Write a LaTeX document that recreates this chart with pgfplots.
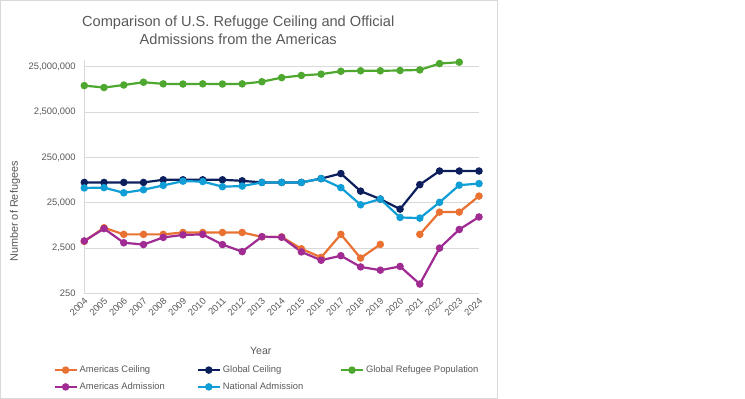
\documentclass[border=0pt]{standalone}
\usepackage{pgfplots}
\pgfplotsset{compat=1.18}
\usepackage{fontspec}
\setmainfont{Liberation Sans}
\definecolor{cOrange}{HTML}{E97132}
\definecolor{cNavy}{HTML}{0C1F5C}
\definecolor{cGreen}{HTML}{4EA72E}
\definecolor{cPurple}{HTML}{A02B93}
\definecolor{cBlue}{HTML}{0F9ED5}
\definecolor{gridgray}{HTML}{D9D9D9}
\definecolor{txtgray}{HTML}{595959}
\begin{document}
\begin{tikzpicture}
\path (0,0) rectangle (745bp,399bp);
\draw[gridgray, line width=0.75bp] (0.5bp,0.5bp) rectangle (497.3bp,398.5bp);
\begin{axis}[
  at={(84.3bp,105.7bp)}, anchor=south west,
  scale only axis, width=394.7bp, height=233.3bp,
  ymode=log, ymin=250, ymax=3.53e7,
  xmin=2004, xmax=2024,
  xtick={2004,...,2024},
  xticklabels={2004,2005,2006,2007,2008,2009,2010,2011,2012,2013,2014,2015,2016,2017,2018,2019,2020,2021,2022,2023,2024},
  ytick={250,2500,25000,250000,2500000,25000000},
  yticklabels={250,{2,500},{25,000},{250,000},{2,500,000},{25,000,000}},
  axis lines=left,
  axis line style={-, draw=gridgray, line width=0.75bp},
  ymajorgrids, major grid style={draw=gridgray, line width=0.75bp},
  tick style={draw=none},
  minor tick style={draw=none},
  log basis y=10,
  ticklabel style={font=\fontsize{9.4bp}{11bp}\selectfont, text=txtgray},
  yticklabel style={xshift=-3bp},
  xticklabel style={rotate=45, anchor=east, yshift=-4bp, xshift=2bp},
  xlabel={Year},
  xlabel style={at={(axis description cs:0.447,-0.246)}, anchor=center, font=\fontsize{10.6bp}{12bp}\selectfont, text=txtgray},
  ylabel={Number of Refugees},
  ylabel style={at={(axis description cs:-0.1756,0.3506)}, anchor=center, rotate=0, font=\fontsize{10.9bp}{12bp}\selectfont, text=txtgray},
  title={Comparison of U.S. Refugge Ceiling and Official\\Admissions from the Americas},
  title style={at={(axis description cs:0.390,1.103)}, anchor=center, align=center, font=\fontsize{14.6bp}{18bp}\selectfont, text=txtgray},
  clip=false,
  unbounded coords=jump,
  every axis plot/.append style={line width=2.2bp, mark=*, mark size=2.6bp, mark options={solid}},
  legend columns=3,
  legend cell align=left,
  legend style={at={(axis description cs:-0.0785,-0.302)}, anchor=north west, draw=none, fill=none, inner sep=0pt,
    font=\fontsize{9.4bp}{11bp}\selectfont, text=txtgray, row sep=4.5bp,
    /tikz/every even column/.append style={column sep=0bp}},
  legend image code/.code={\draw[mark repeat=2,mark phase=2] plot coordinates {(0bp,0bp)(11bp,0bp)(22bp,0bp)};},
]
\addplot[cOrange] coordinates {(2004,3500)(2005,7000)(2006,5000)(2007,5000)(2008,5000)(2009,5500)(2010,5500)(2011,5500)(2012,5500)(2013,4400)(2014,4400)(2015,2400)(2016,1550)(2017,5000)(2018,1500)(2019,3000)(2020,nan)(2021,5000)(2022,15500)(2023,15500)(2024,35000)};
\addlegendentry{\makebox[115bp][l]{Americas Ceiling}}
\addplot[cNavy] coordinates {(2004,70000)(2005,70000)(2006,70000)(2007,70000)(2008,80000)(2009,80000)(2010,80000)(2011,80000)(2012,76000)(2013,70000)(2014,70000)(2015,70000)(2016,85000)(2017,110000)(2018,45000)(2019,30000)(2020,18000)(2021,62500)(2022,125000)(2023,125000)(2024,125000)};
\addlegendentry{\makebox[115bp][l]{Global Ceiling}}
\addplot[cGreen] coordinates {(2004,9.6e6)(2005,8.7e6)(2006,9.9e6)(2007,11.4e6)(2008,10.5e6)(2009,10.4e6)(2010,10.5e6)(2011,10.4e6)(2012,10.5e6)(2013,11.7e6)(2014,14.4e6)(2015,16.1e6)(2016,17.2e6)(2017,19.9e6)(2018,20.4e6)(2019,20.4e6)(2020,20.7e6)(2021,21.3e6)(2022,29.4e6)(2023,31.6e6)};
\addlegendentry{Global Refugee Population}
\addplot[cPurple] coordinates {(2004,3577)(2005,6700)(2006,3264)(2007,2976)(2008,4277)(2009,4857)(2010,4982)(2011,2976)(2012,2078)(2013,4439)(2014,4318)(2015,2050)(2016,1340)(2017,1688)(2018,955)(2019,809)(2020,980)(2021,400)(2022,2485)(2023,6400)(2024,12100)};
\addlegendentry{\makebox[115bp][l]{Americas Admission}}
\addplot[cBlue] coordinates {(2004,52868)(2005,53813)(2006,41279)(2007,48282)(2008,60192)(2009,74654)(2010,73311)(2011,56424)(2012,58238)(2013,69926)(2014,69987)(2015,69933)(2016,84994)(2017,53716)(2018,22491)(2019,30000)(2020,11814)(2021,11411)(2022,25465)(2023,61000)(2024,66000)};
\addlegendentry{\makebox[115bp][l]{National Admission}}
\end{axis}
\end{tikzpicture}
\end{document}
